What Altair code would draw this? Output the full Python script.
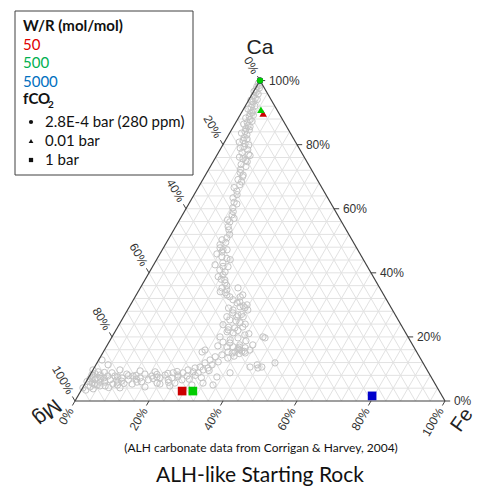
import math
import altair as alt
import pandas as pd

# ---------------- data ----------------
# ALH carbonate compositions (Ca %, Fe %); Mg = 100 - Ca - Fe
alh_ca = [99.1, 98.1, 97.2, 96.3, 95.3, 94.4, 93.4, 92.5, 91.6, 90.6, 89.7, 88.8, 87.8, 86.9, 85.9, 85.0,
          84.1, 83.1, 82.2, 81.3, 80.3, 79.4, 78.4, 77.5, 76.6, 75.6, 74.7, 73.8, 96.6, 94.1, 90.0, 85.6,
          71.3, 69.1, 66.6, 64.4, 63.4, 60.3, 59.1, 58.1, 55.9, 54.4, 53.4, 50.9, 50.3, 48.8, 47.8, 47.2,
          47.2, 45.9, 45.0, 44.1, 43.1, 42.5, 41.9, 40.9, 40.3, 39.4, 38.8, 37.8, 36.9, 35.3, 34.7, 34.1,
          33.8, 33.1, 32.5, 35.3, 32.5, 33.1, 70.0, 67.5, 62.0, 57.0, 52.0,
          98.5, 97.7, 95.8, 93.9, 92.0, 91.1, 89.2, 88.3, 87.3, 86.4, 84.6, 83.6, 81.8, 80.8, 79.9, 78.9,
          77.0, 76.1, 75.1, 73.2, 72.3, 70.5, 68.4, 65.5, 61.5, 56.5, 49.5, 46.5, 44.5, 42.0, 38.0, 36.0,
          31.6, 30.9, 30.6, 30.0, 29.7, 29.4, 29.1, 28.4, 28.4, 27.5, 26.9, 26.3, 26.3, 26.3, 25.3, 24.4,
          23.8, 23.1, 22.8, 22.2, 21.6, 21.3, 20.6, 20.0, 19.7, 19.1, 18.4, 18.1, 17.5, 17.5, 19.7, 16.9,
          16.9, 20.0, 27.0, 25.0, 23.0, 22.0, 24.0, 18.8, 17.2, 21.0, 29.0,
          16.6, 16.3, 15.9, 15.6, 15.3, 15.3, 15.0, 14.4, 13.8, 13.4, 12.8, 12.2, 11.9, 11.3, 10.6, 10.3,
          10.3, 9.7, 9.1, 8.8, 15.9, 15.3, 10.6, 10.3, 11.9, 8.8, 7.5, 5.6, 5.0, 11.3, 10.6, 16.0, 15.5,
          16.8, 14.8, 15.0, 14.0,
          9.7, 8.8, 8.1, 7.8, 7.2, 6.6, 8.8, 8.1, 7.2, 6.6, 5.6, 7.8, 6.6, 8.4, 7.2, 5.9, 7.8, 6.6, 5.3,
          8.4, 7.2, 5.9, 7.8, 6.6, 5.3, 7.2, 5.9, 8.1, 6.6, 5.0, 5.6, 4.4, 7.2, 4.7, 4.1, 4.4, 4.7, 5.3,
          12.8, 11.3, 9.7, 9.1, 8.1, 3.4, 4.1, 9.1, 9.4, 9.7, 5.6, 5.0, 7.5, 6.9, 5.9, 7.8, 4.7, 8.8,
          6.0, 7.0, 8.5, 5.2, 6.3, 7.5, 6.2, 8.0, 5.5, 6.8,
          8.3, 7.0, 6.0, 8.6, 5.8, 7.6, 9.2, 6.8, 8.0, 9.5, 7.3, 6.5, 7.9, 5.0, 4.2, 3.8, 6.1, 7.4, 8.9]
alh_fe = [0.0, 0.1, 0.3, 0.8, 0.7, 1.5, 1.4, 1.6, 1.8, 2.8, 2.5, 2.7, 3.4, 3.1, 3.8, 3.7,
          3.9, 4.9, 4.6, 4.8, 5.8, 6.0, 7.5, 6.4, 9.0, 7.6, 9.2, 8.0, 0.1, 2.2, 2.8, 4.5,
          9.0, 9.5, 9.7, 11.6, 11.0, 12.5, 13.2, 13.4, 13.9, 14.2, 14.9, 15.6, 14.6, 14.8, 15.3, 16.4,
          17.5, 15.4, 17.2, 19.9, 18.4, 16.6, 20.4, 18.7, 20.4, 20.3, 19.3, 21.6, 22.1, 22.1, 23.7, 22.2,
          23.7, 24.5, 25.6, 26.4, 28.4, 28.8, 10.3, 10.8, 12.0, 14.5, 15.8,
          0.6, 1.0, 1.6, 0.6, 2.6, 1.2, 3.6, 2.0, 4.2, 2.4, 4.8, 3.2, 5.6, 4.0, 7.0, 5.2,
          8.4, 6.4, 8.6, 9.6, 8.6, 10.2, 10.8, 11.0, 13.0, 13.0, 16.0, 16.5, 18.8, 19.0, 20.5, 23.0,
          26.9, 29.1, 28.5, 31.5, 30.6, 29.9, 31.4, 28.5, 32.5, 28.9, 30.6, 27.9, 30.6, 32.3, 29.2, 32.4,
          28.1, 33.8, 31.8, 30.3, 30.3, 32.1, 35.6, 29.2, 34.2, 32.4, 30.8, 32.8, 35.8, 39.3, 41.5, 34.3,
          32.6, 40.8, 31.5, 31.0, 30.0, 33.0, 34.0, 36.8, 30.0, 36.5, 27.0,
          37.7, 35.9, 39.3, 37.3, 35.6, 33.7, 38.5, 32.5, 31.0, 34.6, 30.1, 32.6, 29.2, 31.4, 28.5, 30.8,
          27.3, 29.8, 27.4, 28.9, 27.2, 26.7, 42.0, 44.3, 48.1, 37.5, 34.6, 31.8, 34.8, 43.6, 45.2, 36.5, 38.0,
          36.0, 37.0, 35.0, 36.0,
          25.7, 24.8, 23.8, 26.4, 22.6, 25.6, 22.1, 20.3, 19.4, 21.9, 19.4, 16.9, 16.5, 14.7, 14.0, 13.8, 11.8, 11.1, 12.8,
          9.8, 9.1, 8.6, 6.9, 6.2, 7.6, 4.2, 3.8, 2.7, 2.1, 3.5, 1.8, 1.9, 2.4, 5.8, 10.1, 16.7, 23.3, 20.3,
          0.9, 3.3, 0.0, 1.7, 0.5, 1.2, 0.1, 17.1, 12.9, 7.3, 24.2, 29.1, 18.4, 0.6, 5.1, 5.0, 4.4, 5.6,
          1.0, 3.5, 1.2, 2.6, 4.8, 7.8, 9.5, 12.5, 10.5, 13.2,
          18.0, 17.6, 15.0, 20.8, 22.4, 24.0, 23.0, 27.5, 28.5, 31.5, 30.5, 8.0, 10.5, 9.0, 7.0, 3.0, 0.2, 1.2, 3.5]

# Model runs
run_ca = [100, 100, 100, 89.7, 90.9, 3.1, 3.1, 1.6]
run_fe = [0, 0, 0, 6.0, 4.8, 27.4, 30.3, 79.5]
run_wr = ["50", "5000", "500", "50", "500", "50", "500", "5000"]
run_fco2 = ["280 ppm", "280 ppm", "280 ppm", "0.01 bar", "0.01 bar", "1 bar", "1 bar", "1 bar"]

wr_levels = ["50", "500", "5000"]
wr_marker_colors = ["#cc0000", "#00cc00", "#0000cc"]
wr_text_colors = ["#e00000", "#00b050", "#0070c0"]
fco2_levels = ["280 ppm", "0.01 bar", "1 bar"]
fco2_labels = ["2.8E-4 bar (280 ppm)", "0.01 bar", "1 bar"]
fco2_shapes = ["circle", "triangle-up", "square"]

tick_values = [0, 20, 40, 60, 80, 100]
grid_levels = list(range(4, 100, 4))

# ---------------- helpers ----------------
SQ = math.sqrt(3) / 2


def tx(ca, fe):
    return fe + ca / 2.0


def ty(ca):
    return ca * SQ


H = 478
XS = alt.Scale(domain=[-18.1081, 107.8378], nice=False, zero=False)
YMAX = 393 / 3.7
YS = alt.Scale(domain=[YMAX - H / 3.7, YMAX], nice=False, zero=False)

# grid segments
grid_rows = []
for k in grid_levels:
    segs = [((k, 0), (k, 100 - k)),          # constant Ca
            ((0, k), (100 - k, k)),          # constant Fe
            ((0, 100 - k), (100 - k, 0))]    # constant Mg
    for (c1, f1), (c2, f2) in segs:
        grid_rows.append(dict(x1=tx(c1, f1), y1=ty(c1), x2=tx(c2, f2), y2=ty(c2)))
grid_df = pd.DataFrame(grid_rows)

edge_rows = []
for (c1, f1), (c2, f2) in [((0, 0), (0, 100)), ((0, 100), (100, 0)), ((100, 0), (0, 0))]:
    edge_rows.append(dict(x1=tx(c1, f1), y1=ty(c1), x2=tx(c2, f2), y2=ty(c2)))
edge_df = pd.DataFrame(edge_rows)

TICK_LEN = 1.4
LAB_OFF = 2.4
axes_def = {
    "bottom": (lambda v: 0, lambda v: v, (-0.5, -SQ)),
    "right": (lambda v: v, lambda v: 100 - v, (1.0, 0.0)),
    "left": (lambda v: 100 - v, lambda v: 0, (-0.5, SQ)),
}
tick_rows = []
label_rows = {k: [] for k in axes_def}
for name, (fca, ffe, (dx, dy)) in axes_def.items():
    for v in tick_values:
        c, f = fca(v), ffe(v)
        x0, y0 = tx(c, f), ty(c)
        tick_rows.append(dict(x1=x0, y1=y0, x2=x0 + dx * TICK_LEN, y2=y0 + dy * TICK_LEN))
        label_rows[name].append(dict(x=x0 + dx * LAB_OFF, y=y0 + dy * LAB_OFF, t=f"{v}%"))
tick_df = pd.DataFrame(tick_rows)

alh_df = pd.DataFrame({"ca": alh_ca, "fe": alh_fe})
run_df = pd.DataFrame({"ca": run_ca, "fe": run_fe, "wr": run_wr, "fco2": run_fco2})


def seg_layer(df, color, width):
    return alt.Chart(df).mark_rule(color=color, strokeWidth=width).encode(
        x=alt.X("x1:Q", scale=XS, axis=None),
        y=alt.Y("y1:Q", scale=YS, axis=None),
        x2="x2:Q", y2="y2:Q")


grid = seg_layer(grid_df, "#e2e2e2", 1)
edges = seg_layer(edge_df, "#404040", 1.2)
ticks = seg_layer(tick_df, "#404040", 1)

alh = alt.Chart(alh_df).transform_calculate(
    X="datum.fe + datum.ca / 2", Y="datum.ca * 0.8660254"
).mark_point(shape="circle", filled=False, color="#c4c4c4", size=40, strokeWidth=1, opacity=1).encode(
    x=alt.X("X:Q", scale=XS, axis=None), y=alt.Y("Y:Q", scale=YS, axis=None))

runs = alt.Chart(run_df).transform_calculate(
    X="datum.fe + datum.ca / 2", Y="datum.ca * 0.8660254"
).mark_point(filled=True, opacity=1, strokeWidth=0).encode(
    x=alt.X("X:Q", scale=XS, axis=None), y=alt.Y("Y:Q", scale=YS, axis=None),
    color=alt.Color("wr:N", scale=alt.Scale(domain=wr_levels, range=wr_marker_colors), legend=None),
    shape=alt.Shape("fco2:N", scale=alt.Scale(domain=fco2_levels, range=fco2_shapes), legend=None),
    size=alt.Size("fco2:O", scale=alt.Scale(domain=fco2_levels, range=[40, 75, 45]), legend=None))

lab_style = dict(font="Liberation Sans", fontSize=12, color="#333333", baseline="middle")
lab_layers = []
for name, angle, align in [("bottom", 300, "right"), ("right", 0, "left"), ("left", 60, "right")]:
    lab_layers.append(
        alt.Chart(pd.DataFrame(label_rows[name])).mark_text(angle=angle, align=align, **lab_style).encode(
            x=alt.X("x:Q", scale=XS, axis=None), y=alt.Y("y:Q", scale=YS, axis=None), text="t:N"))


def txt(text, x, y, **kw):
    return alt.Chart(alt.Data(values=[{}])).mark_text(text=text, **kw).encode(
        x=alt.value(x), y=alt.value(y))


annos = [
    txt("Ca", 252, 40, font="Liberation Sans", fontSize=21, color="#222222", align="center", baseline="middle"),
    txt("Mg", 39, 404, font="Liberation Sans", fontSize=21, color="#222222", align="center", baseline="middle", angle=140),
    txt("Fe", 454, 412, font="Liberation Sans", fontSize=20, color="#222222", align="center", baseline="middle", angle=305),
    txt("(ALH carbonate data from Corrigan & Harvey, 2004)", 253, 440, font="Lato", fontSize=12,
        color="#111111", align="center", baseline="middle"),
    txt("ALH-like Starting Rock", 252, 474, font="Lato", fontSize=21, color="#111111", align="center",
        baseline="alphabetic"),
]

box = alt.Chart(alt.Data(values=[{}])).mark_rect(fill="white", stroke="#404040", strokeWidth=1).encode(
    x=alt.value(7), x2=alt.value(185), y=alt.value(3), y2=alt.value(167))

legend = [box,
          txt("W/R (mol/mol)", 15, 18, font="Lato", fontSize=15, fontWeight="bold", color="#111111",
              align="left", baseline="middle"),
          txt("fCO", 15, 91, font="Lato", fontSize=15, fontWeight="bold", color="#111111",
              align="left", baseline="middle"),
          txt("2", 40, 97, font="Lato", fontSize=10, fontWeight="bold", color="#111111",
              align="left", baseline="middle")]
for i, (lab, col) in enumerate(zip(wr_levels, wr_text_colors)):
    legend.append(txt(lab, 15, 37 + 18.3 * i, font="Lato", fontSize=15, color=col,
                      align="left", baseline="middle"))
for i, (lab, shp, sz) in enumerate(zip(fco2_labels, fco2_shapes, [18, 22, 18])):
    yy = 114 + 19 * i
    legend.append(alt.Chart(alt.Data(values=[{}])).mark_point(shape=shp, filled=True, color="#111111",
                                                                size=sz, opacity=1).encode(
        x=alt.value(23), y=alt.value(yy)))
    legend.append(txt(lab, 37, yy, font="Lato", fontSize=15, color="#111111", align="left",
                      baseline="middle"))

chart = alt.layer(grid, alh, edges, ticks, *lab_layers, runs, *annos, *legend).properties(
    width=466, height=H, autosize=alt.AutoSizeParams(type="none"), padding=0
).configure_view(strokeWidth=0)

chart.save("out.html", embed_options={"renderer": "svg", "actions": False})
